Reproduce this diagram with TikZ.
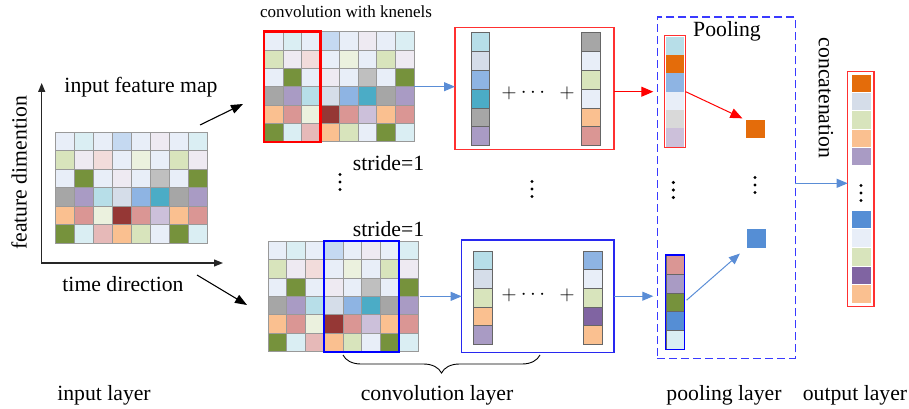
\documentclass[tikz,border=0pt]{standalone}
\usepackage{fontspec}
\setmainfont{Liberation Serif}
\usetikzlibrary{arrows.meta, positioning, calc, decorations.pathreplacing}

\definecolor{pb}{HTML}{E8EEF8}
\definecolor{pc}{HTML}{DAEEF3}
\definecolor{lb}{HTML}{C5D9F1}
\definecolor{pl}{HTML}{EEEAF2}
\definecolor{lg}{HTML}{D8E4BC}
\definecolor{pp}{HTML}{F2DCDB}
\definecolor{vg}{HTML}{EBF1DE}
\definecolor{ol}{HTML}{76923C}
\definecolor{gy}{HTML}{BFBFBF}
\definecolor{dg}{HTML}{A6A6A6}
\definecolor{pu}{HTML}{A99BC4}
\definecolor{cy}{HTML}{B7DEE8}
\definecolor{bg}{HTML}{D5DDE9}
\definecolor{bl}{HTML}{8EB4E3}
\definecolor{tl}{HTML}{4BACC6}
\definecolor{pe}{HTML}{FAC090}
\definecolor{ro}{HTML}{DA9694}
\definecolor{dr}{HTML}{953735}
\definecolor{lv}{HTML}{CCC0DA}
\definecolor{pk}{HTML}{E6B9B8}
\definecolor{or}{HTML}{E46C0A}
\definecolor{mb}{HTML}{558ED5}
\definecolor{vi}{HTML}{8064A2}
\definecolor{lgy}{HTML}{D9D9D9}
\definecolor{flowc}{HTML}{5A8DD6}
\definecolor{poolc}{HTML}{3A3AFF}
\definecolor{boxred}{HTML}{FF3030}
\definecolor{boxblue}{HTML}{2828F0}

%% feature map: top-left x, top-left y, cell width, cell height
\newcommand{\fmap}[4]{%
  \foreach \mrow [count=\j] in {%
      {pb,pc,pb,lb,pb,pl,pb,pc},
      {lg,pl,pp,pb,vg,pb,lg,pl},
      {pb,ol,pb,pl,pb,gy,pb,ol},
      {dg,pu,cy,bg,bl,tl,dg,pu},
      {pe,ro,vg,dr,ro,lv,pe,ro},
      {ol,pc,pk,pe,lg,pb,ol,pc}}{%
    \foreach \cc [count=\i] in \mrow {%
      \filldraw[cell, fill=\cc] ({#1+(\i-1)*#3},{#2+(\j-1)*#4}) rectangle ++(#3,#4);
    }
  }
}
%% column of cells: [style] x, top y, width, height, colours
\newcommand{\vcol}[6][colcell]{%
  \foreach \cc [count=\i] in {#6} {%
    \filldraw[#1, fill=\cc] (#2,{#3+(\i-1)*#5}) rectangle ++(#4,#5);
  }
}
%% three dots
\newcommand{\dotsat}[2]{%
  \foreach \k in {-1,0,1} \fill (#1,{#2+\k*7.5}) circle (1.7);
}

\begin{document}
\begin{tikzpicture}[
    x=1pt, y=-1pt,
    font=\fontsize{21.7}{26}\selectfont,
    cell/.style={draw=black!40, line width=0.7pt},
    colcell/.style={draw=black!60, line width=0.8pt},
    nocell/.style={draw=none},
    outcell/.style={draw=white, line width=0.8pt},
    region/.style={inner sep=0pt, outer sep=0pt, draw=none},
    redframe/.style={region, draw=red, line width=2.4pt},
    blueframe/.style={region, draw=blue, line width=2.4pt},
    redbox/.style={region, draw=boxred, line width=1.2pt},
    bluebox/.style={region, draw=boxblue, line width=1.3pt},
    redcol/.style={region, draw=boxred, line width=1.5pt},
    bluecol/.style={region, draw=blue, line width=1.4pt},
    poolbox/.style={region, draw=poolc, line width=1.6pt, dash pattern=on 8pt off 4pt},
    flow/.style={-{Triangle[length=11pt,width=9pt]}, draw=flowc, line width=1pt},
    redarrow/.style={-{Triangle[length=12pt,width=10pt]}, draw=red, line width=1pt},
    blackarrow/.style={-{Triangle[length=12pt,width=9pt]}, line width=1.1pt},
    axis/.style={{Triangle[length=9pt,width=7pt]}-{Triangle[length=9pt,width=7pt]}, line width=1.2pt, draw=black!85},
    lbl/.style={anchor=base}
  ]
  \useasboundingbox (0,0) rectangle (909,409);

  %% input layer
  \fmap{55}{132.3}{19}{18.5}
  \node[region, minimum width=152, minimum height=111] (inmap) at (131,187.8) {};
  \coordinate (org) at (41.7,263);
  \coordinate (fdir) at (41.7,83);
  \coordinate (tdir) at (223,263);
  \draw[axis] (fdir) -- (org) -- (tdir);
  \node[lbl] (inlbl) at (141,92.5) {input feature map};
  \node[rotate=90] (fdlbl) at (19,173) {feature dimention};
  \node[lbl] (tdlbl) at (123,291.5) {time direction};
  \node[lbl] (inlayer) at (104,400) {input layer};

  %% arrows to the two kernels
  \coordinate (upS) at (200,125);
  \coordinate (upE) at (243,104);
  \coordinate (dnS) at (197,275);
  \coordinate (dnE) at (247,305);
  \draw[blackarrow] (upS) -- (upE);
  \draw[blackarrow] (dnS) -- (dnE);

  %% convolution layer
  \node[font=\fontsize{17}{20}\selectfont] (convtitle) at (346,12) {convolution with knenels};
  \fmap{264.3}{31.7}{18.75}{18.3}
  \node[region, minimum width=150, minimum height=110] (mapA) at (339.3,86.7) {};
  \node[redframe, minimum width=56.25, minimum height=110] (kerA) at (292.4,86.7) {};
  \fmap{268}{241}{18.75}{18.45}
  \node[region, minimum width=150, minimum height=110.7] (mapB) at (343,296.35) {};
  \node[blueframe, minimum width=75, minimum height=110.7] (kerB) at (361.75,296.35) {};
  \node[lbl] (strA) at (388.5,170) {stride=1};
  \node[lbl] (strB) at (388.5,236) {stride=1};
  \dotsat{340}{182}

  %% weighted sums
  \node[redbox, minimum width=159, minimum height=122] (sumA) at (534.5,88.3) {};
  \vcol{471}{32.7}{18.3}{18.83}{cy,bg,bl,tl,dg,pu}
  \vcol{581}{32.7}{19}{18.83}{dg,pb,lg,pb,pe,ro}
  \node (plA1) at (509,93) {$+$};
  \node (dtA) at (533,93) {$\cdots$};
  \node (plA2) at (567,93) {$+$};
  \node[bluebox, minimum width=152.3, minimum height=112.3] (sumB) at (537.8,296.2) {};
  \vcol{473}{251}{19.3}{18.7}{cy,bg,lg,pe,pu}
  \vcol{583}{251}{19}{18.7}{bl,pb,lg,vi,pe}
  \node (plB1) at (509,295) {$+$};
  \node (dtB) at (533,295) {$\cdots$};
  \node (plB2) at (567,295) {$+$};
  \dotsat{532}{189}
  \draw[flow] (mapA.east) -- (mapA.east -| sumA.west);
  \draw[flow, shorten <=2pt] (mapB.east) -- (mapB.east -| sumB.west);

  %% brace
  \coordinate (brL) at (343,355);
  \coordinate (brR) at (540,355);
  \draw[line width=0.9pt, decorate, decoration={brace, mirror, amplitude=18pt}] (brL) -- (brR);
  \node[lbl] (convlayer) at (437,400) {convolution layer};

  %% pooling layer
  \node[poolbox, minimum width=138, minimum height=341] (pool) at (726.3,187.8) {};
  \node (pooltitle) at (727,31) {Pooling};
  \vcol[nocell]{666}{36.7}{18}{18.33}{cy,or,bl,pb,lgy,lv}
  \node[redcol, minimum width=21.4, minimum height=112] (colA) at (675,91.7) {};
  \node[region, fill=or, minimum width=19, minimum height=17.7] (maxA) at (755.5,128.9) {};
  \vcol{666.5}{255.5}{17.5}{18.7}{ro,pu,ol,mb,pc}
  \node[bluecol, minimum width=18.6, minimum height=94.3] (colB) at (675,302.2) {};
  \node[region, fill=mb, minimum width=19.3, minimum height=18.7] (maxB) at (756.3,238.3) {};
  \dotsat{673.3}{190}
  \dotsat{755}{185}
  \draw[redarrow, shorten >=4pt] (sumA.east |- colA.west) -- (colA.west -| pool.west);
  \draw[redarrow, shorten >=4pt] (colA.east) -- (maxA.north west);
  \draw[flow, shorten >=4pt] (sumB.east) -- (sumB.east -| pool.west);
  \draw[flow, shorten <=3pt, shorten >=9pt] (colB.east) -- (maxB.south west);
  \node[lbl] (poollayer) at (724,400) {pooling layer};

  %% output layer
  \vcol[outcell]{851.7}{74}{19.3}{18.3}{or,bg,lg,pe,pu}
  \vcol[outcell]{851.7}{210}{19.3}{18.7}{mb,pb,lg,vi,pe}
  \node[redcol, minimum width=26.3, minimum height=235] (outc) at (860.85,189.2) {};
  \dotsat{861}{193}
  \node[rotate=-90] (catlbl) at (826,98) {concatenation};
  \draw[flow] ([yshift=4.5pt]pool.east) -- ([yshift=4.5pt]pool.east -| outc.west);
  \node[lbl] (outlayer) at (855,400) {output layer};

\end{tikzpicture}
\end{document}
